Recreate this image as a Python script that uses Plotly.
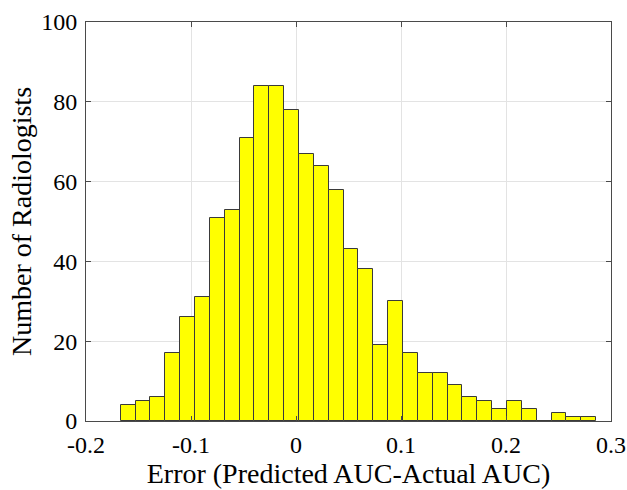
import plotly.graph_objects as go

# Histogram bins (left edge of first bin and bin width) and counts
bin_start = -0.167
bin_width = 0.01415
counts = [4, 5, 6, 17, 26, 31, 51, 53, 71, 84, 84, 78, 67, 64, 58, 43,
          38, 19, 30, 17, 12, 12, 9, 6, 5, 3, 5, 3, 0, 2, 1, 1]
x_ticks = [-0.2, -0.1, 0, 0.1, 0.2, 0.3]
x_tick_labels = ["-0.2", "-0.1", "0", "0.1", "0.2", "0.3"]
y_ticks = [0, 20, 40, 60, 80, 100]

centers = [bin_start + bin_width * (i + 0.5) for i in range(len(counts))]

fig = go.Figure()
fig.add_trace(go.Bar(
    x=centers, y=counts, width=bin_width,
    marker=dict(color="#FFFF00", line=dict(color="#3a3a3a", width=1)),
))

font = "Liberation Serif, Times New Roman, serif"
fig.update_layout(
    width=627, height=490,
    margin=dict(l=86, r=16, t=22, b=69),
    paper_bgcolor="white", plot_bgcolor="white",
    showlegend=False, bargap=0,
    font=dict(family=font, size=24, color="black"),
)
fig.update_xaxes(
    range=[-0.2, 0.3], tickvals=x_ticks, ticktext=x_tick_labels,
    showgrid=True, gridcolor="#e3e3e3", gridwidth=1,
    showline=True, linecolor="#4a4a4a", linewidth=1, mirror="ticks",
    ticks="inside", ticklen=5, tickcolor="#4a4a4a",
    zeroline=False, automargin=False,
    ticklabeloverflow="allow", ticklabelstandoff=2,
    tickfont=dict(family=font, size=24),
    title=dict(text="Error (Predicted AUC-Actual AUC)", font=dict(family=font, size=28), standoff=3),
)
fig.update_yaxes(
    range=[0, 100], tickvals=y_ticks,
    showgrid=True, gridcolor="#e3e3e3", gridwidth=1,
    showline=True, linecolor="#4a4a4a", linewidth=1, mirror="ticks",
    ticks="inside", ticklen=5, tickcolor="#4a4a4a",
    zeroline=False, automargin=False,
    ticklabeloverflow="allow", ticklabelstandoff=3,
    tickfont=dict(family=font, size=24),
    title=dict(text="Number of Radiologists", font=dict(family=font, size=28), standoff=1),
)

fig.write_html("out.html")
